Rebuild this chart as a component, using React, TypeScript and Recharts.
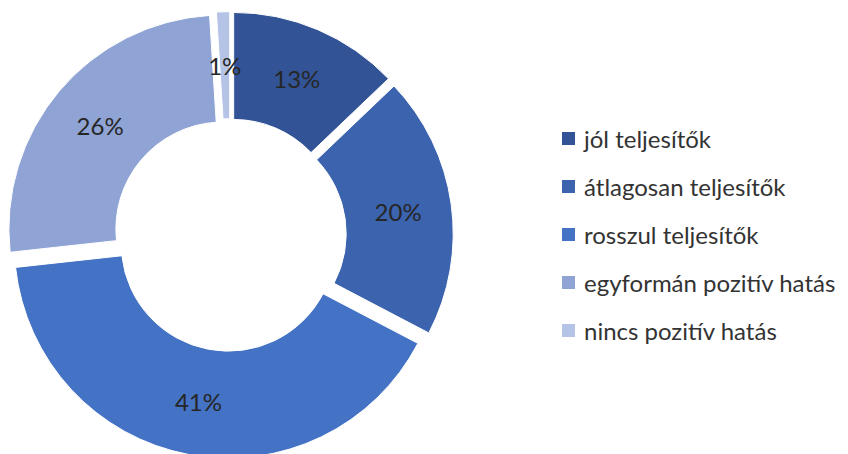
import React from 'react';
import { PieChart, Pie, Cell, Legend, Sector } from 'recharts';

const categories = [
  'jól teljesítők',
  'átlagosan teljesítők',
  'rosszul teljesítők',
  'egyformán pozitív hatás',
  'nincs pozitív hatás',
];
const shares = [13, 20, 41, 26, 1];
const colors = ['#325496', '#3B63AE', '#4472C4', '#8FA4D5', '#B4C3E6'];

const chartData = categories.map((name, i) => ({ name, value: shares[i] }));

const FONT = 'Lato, "Open Sans", sans-serif';
const EXPLODE = 9.3;
const RAD = Math.PI / 180;

// Excel-style exploded doughnut: push each sector out along its middle angle
const ExplodedSector = (props: any) => {
  const { cx, cy, midAngle } = props;
  const dx = EXPLODE * Math.cos(-midAngle * RAD);
  const dy = EXPLODE * Math.sin(-midAngle * RAD);
  return <Sector {...props} cx={cx + dx} cy={cy + dy} />;
};

const renderLabel = (props: any) => {
  const { cx, cy, midAngle, innerRadius, outerRadius, value } = props;
  const r = (innerRadius + outerRadius) / 2 + EXPLODE;
  const x = cx + r * Math.cos(-midAngle * RAD);
  const y = cy + r * Math.sin(-midAngle * RAD);
  return (
    <text
      x={x}
      y={y}
      fill="#262626"
      fontSize={24}
      fontFamily={FONT}
      textAnchor="middle"
      dominantBaseline="central"
    >
      {`${value}%`}
    </text>
  );
};

const renderLegend = (props: any) => {
  // keep the data order (legend sorts by name otherwise)
  const payload = [...(props.payload || [])].sort(
    (a: any, b: any) => categories.indexOf(a.value) - categories.indexOf(b.value)
  );
  return (
    <ul style={{ listStyle: 'none', margin: 0, padding: 0 }}>
      {payload.map((entry: any, index: number) => (
        <li
          key={`item-${index}`}
          style={{ display: 'flex', alignItems: 'center', height: 48.2 }}
        >
          <span
            style={{
              display: 'inline-block',
              width: 13,
              height: 13,
              background: entry.color,
              marginRight: 9,
            }}
          />
          <span style={{ fontFamily: FONT, fontSize: 24, color: '#333333', whiteSpace: 'nowrap' }}>
            {entry.value}
          </span>
        </li>
      ))}
    </ul>
  );
};

export default function App() {
  return (
    <div style={{ position: 'absolute', left: 0, top: 0, width: 848, height: 454, background: '#fff' }}>
      <PieChart width={848} height={454} margin={{ top: 0, right: 0, bottom: 0, left: 0 }}>
        <Pie
          data={chartData}
          dataKey="value"
          nameKey="name"
          cx={230}
          cy={235}
          innerRadius={107}
          outerRadius={214}
          startAngle={90}
          endAngle={-270}
          stroke="#ffffff"
          strokeWidth={1}
          shape={ExplodedSector}
          label={renderLabel}
          labelLine={false}
          isAnimationActive={false}
        >
          {chartData.map((entry, index) => (
            <Cell key={`cell-${index}`} fill={colors[index]} />
          ))}
        </Pie>
        <Legend
          layout="vertical"
          content={renderLegend}
          wrapperStyle={{ position: 'absolute', left: 562, top: 114, width: 286 }}
        />
      </PieChart>
    </div>
  );
}
